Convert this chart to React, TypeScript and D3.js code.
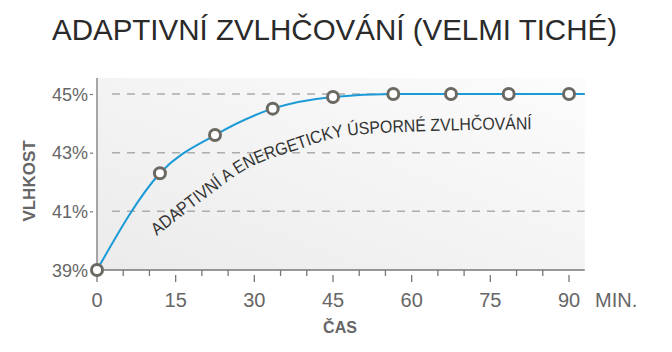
import React, { useEffect, useRef } from 'react';
import * as d3 from 'd3';

// humidity curve (measured markers)
const minutes = [0, 12, 22.5, 33.5, 45, 56.5, 67.5, 78.5, 90];
const humidity = [39, 42.3, 43.6, 44.5, 44.9, 45, 45, 45, 45];
// the line runs on past the last marker to the end of the axis
const lineEndMinute = 93;
const lineEndHumidity = 45;

const xTicks = [0, 15, 30, 45, 60, 75, 90];
const xMinorTicks = [5, 10, 20, 25, 35, 40, 50, 55, 65, 70, 80, 85];
const yTicks = [39, 41, 43, 45];
const gridValues = [41, 43, 45];

// baseline of the curved annotation, in chart units
const labelMinutes = [11.4, 21.5, 28.2, 38.1, 46.3, 57.8, 83.5];
const labelHumidity = [40.16, 41.56, 42.41, 43.09, 43.53, 43.7, 43.8];

const title = 'ADAPTIVNÍ ZVLHČOVÁNÍ (VELMI TICHÉ)';
const curveLabel = 'ADAPTIVNÍ A ENERGETICKY ÚSPORNÉ ZVLHČOVÁNÍ';
const yTitle = 'VLHKOST';
const xTitle = 'ČAS';
const xUnit = 'MIN.';

const FONT = '"Liberation Sans", Arial, sans-serif';

const App: React.FC = () => {
    const svgRef = useRef<SVGSVGElement>(null);

    useEffect(() => {
        const svg = d3.select(svgRef.current);
        svg.selectAll('*').remove();

        const width = 672;
        const height = 352;
        const plotTop = 78;

        const x = d3.scaleLinear().domain([0, 90]).range([97, 569]);
        const y = d3.scaleLinear().domain([39, 45]).range([270, 94]);
        const xEnd = x(lineEndMinute);

        const defs = svg.append('defs');
        const grad = defs
            .append('linearGradient')
            .attr('id', 'bg')
            .attr('x1', 0)
            .attr('y1', 1)
            .attr('x2', 1)
            .attr('y2', 0);
        grad.append('stop').attr('offset', '0%').attr('stop-color', '#ebebeb');
        grad.append('stop').attr('offset', '100%').attr('stop-color', '#fcfcfc');

        svg.append('rect').attr('width', width).attr('height', height).attr('fill', '#ffffff');

        // title
        svg.append('text')
            .attr('x', 52)
            .attr('y', 39.5)
            .attr('font-family', FONT)
            .attr('font-size', 29.5)
            .attr('fill', '#2a2a2a')
            .text(title);

        // plot background
        svg.append('rect')
            .attr('x', x(0))
            .attr('y', plotTop)
            .attr('width', xEnd - x(0))
            .attr('height', y(39) - plotTop)
            .attr('fill', 'url(#bg)');

        // dashed grid
        svg.append('g')
            .selectAll('line')
            .data(gridValues)
            .enter()
            .append('line')
            .attr('x1', x(0) + 15)
            .attr('x2', xEnd)
            .attr('y1', (d) => y(d))
            .attr('y2', (d) => y(d))
            .attr('stroke', '#acacac')
            .attr('stroke-width', 1.5)
            .attr('stroke-dasharray', '8 7');

        // axes
        svg.append('line')
            .attr('x1', x(0)).attr('x2', x(0))
            .attr('y1', plotTop).attr('y2', y(39))
            .attr('stroke', '#8a8a8a').attr('stroke-width', 1.5);
        svg.append('line')
            .attr('x1', x(0)).attr('x2', xEnd)
            .attr('y1', y(39)).attr('y2', y(39))
            .attr('stroke', '#777').attr('stroke-width', 1.5);

        // x ticks
        svg.append('g')
            .selectAll('line')
            .data(xMinorTicks)
            .enter()
            .append('line')
            .attr('x1', (d) => x(d)).attr('x2', (d) => x(d))
            .attr('y1', y(39)).attr('y2', y(39) + 6)
            .attr('stroke', '#777').attr('stroke-width', 1.3);
        svg.append('g')
            .selectAll('line')
            .data(xTicks)
            .enter()
            .append('line')
            .attr('x1', (d) => x(d)).attr('x2', (d) => x(d))
            .attr('y1', y(39) + 5).attr('y2', y(39) + 12)
            .attr('stroke', '#777').attr('stroke-width', 1.3);
        svg.append('g')
            .selectAll('text')
            .data(xTicks)
            .enter()
            .append('text')
            .attr('x', (d) => x(d))
            .attr('y', 307)
            .attr('text-anchor', 'middle')
            .attr('font-family', FONT)
            .attr('font-size', 20)
            .attr('fill', '#666')
            .text((d) => d);
        svg.append('text')
            .attr('x', 595)
            .attr('y', 307)
            .attr('font-family', FONT)
            .attr('font-size', 20)
            .attr('fill', '#666')
            .text(xUnit);

        // y ticks
        svg.append('g')
            .selectAll('line')
            .data(gridValues)
            .enter()
            .append('line')
            .attr('x1', x(0) - 7).attr('x2', x(0) - 4)
            .attr('y1', (d) => y(d) + 0.5).attr('y2', (d) => y(d) + 0.5)
            .attr('stroke', '#777').attr('stroke-width', 1.2);
        svg.append('g')
            .selectAll('text')
            .data(yTicks)
            .enter()
            .append('text')
            .attr('x', 88)
            .attr('y', (d) => y(d) + 6.5)
            .attr('text-anchor', 'end')
            .attr('font-family', FONT)
            .attr('font-size', 18)
            .attr('fill', '#666')
            .text((d) => `${d}%`);

        // axis titles
        svg.append('text')
            .attr('transform', `translate(35,181) rotate(-90)`)
            .attr('text-anchor', 'middle')
            .attr('font-family', FONT)
            .attr('font-weight', 'bold')
            .attr('font-size', 17)
            .attr('fill', '#666')
            .text(yTitle);
        svg.append('text')
            .attr('x', 340)
            .attr('y', 333)
            .attr('text-anchor', 'middle')
            .attr('font-family', FONT)
            .attr('font-weight', 'bold')
            .attr('font-size', 16)
            .attr('fill', '#666')
            .text(xTitle);

        // curved annotation (condensed look: squeeze the glyphs along the path)
        const labelLine = d3
            .line<number>()
            .x((d) => x(labelMinutes[d]))
            .y((d) => y(labelHumidity[d]))
            .curve(d3.curveMonotoneX);
        defs.append('path')
            .attr('id', 'labelPath')
            .attr('d', labelLine(d3.range(labelMinutes.length)));
        svg.append('text')
            .attr('font-family', FONT)
            .attr('font-size', 17.5)
            .attr('fill', '#333')
            .append('textPath')
            .attr('href', '#labelPath')
            .attr('textLength', 403)
            .attr('lengthAdjust', 'spacingAndGlyphs')
            .text(curveLabel);

        // humidity line
        const linePts: [number, number][] = minutes.map((m, i) => [m, humidity[i]]);
        linePts.push([lineEndMinute, lineEndHumidity]);
        const line = d3
            .line<[number, number]>()
            .x((d) => x(d[0]))
            .y((d) => y(d[1]))
            .curve(d3.curveMonotoneX);
        svg.append('path')
            .attr('d', line(linePts))
            .attr('fill', 'none')
            .attr('stroke', '#1b9ad7')
            .attr('stroke-width', 2);

        // markers
        svg.append('g')
            .selectAll('circle')
            .data(minutes)
            .enter()
            .append('circle')
            .attr('cx', (d) => x(d))
            .attr('cy', (d, i) => y(humidity[i]))
            .attr('r', 5.5)
            .attr('fill', '#ffffff')
            .attr('stroke', '#6b6962')
            .attr('stroke-width', 3);
    }, []);

    return (
        <svg
            ref={svgRef}
            width={672}
            height={352}
            style={{ position: 'absolute', left: 0, top: 0 }}
        />
    );
};

export default App;
